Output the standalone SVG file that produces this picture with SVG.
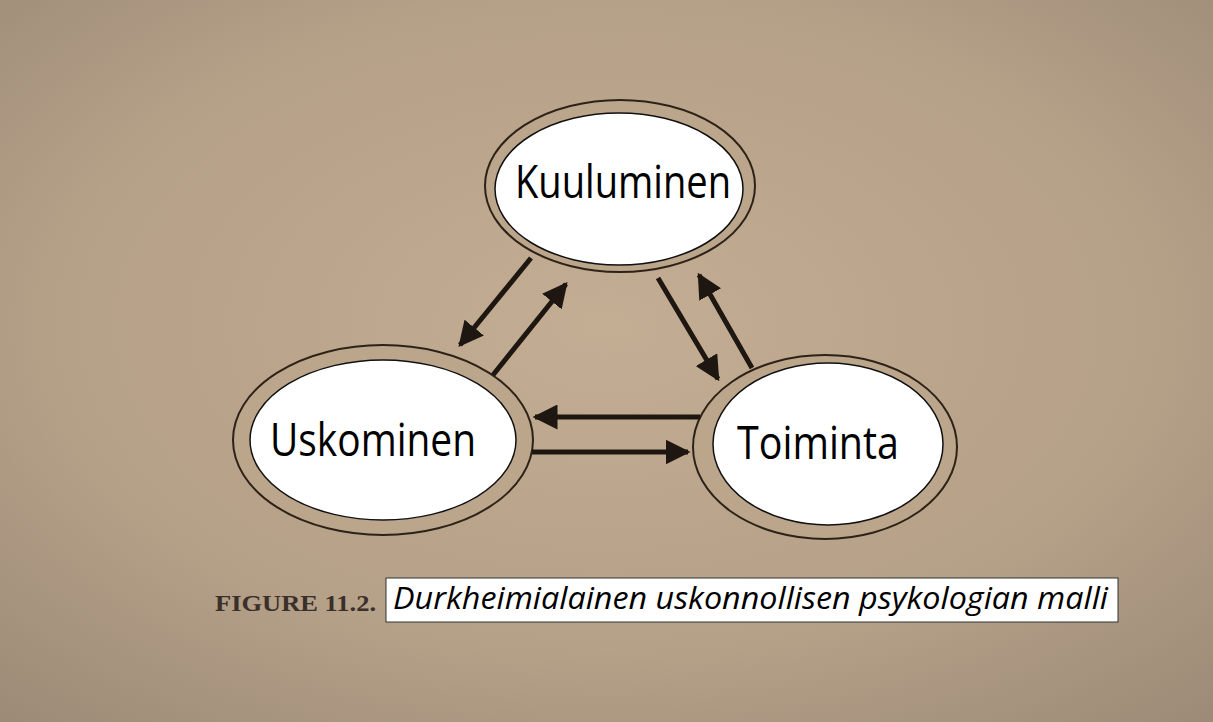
<svg xmlns="http://www.w3.org/2000/svg" width="1213" height="722" viewBox="0 0 1213 722">
<defs>
<radialGradient id="bg" cx="0.5" cy="0.45" r="0.75">
<stop offset="0" stop-color="#c3ad93"/>
<stop offset="0.6" stop-color="#b5a088"/>
<stop offset="1" stop-color="#9c8a76"/>
</radialGradient>
<marker id="ah" markerWidth="5" markerHeight="5" refX="4.5" refY="2.5" orient="auto" markerUnits="strokeWidth">
<path d="M0,0 L5,2.5 L0,5 z" fill="#1e1610"/>
</marker>
<style>
.ring{fill:#bba68c;stroke:#2e2218;stroke-width:2}
.core{fill:#ffffff;stroke:#111;stroke-width:1.5}
.lbl{font-family:"Open Sans","Liberation Sans",sans-serif;font-size:45px;fill:#000}
.conn line{stroke:#1e1610;stroke-width:5;marker-end:url(#ah)}
</style>
</defs>
<rect width="1213" height="722" fill="url(#bg)"/>
<g id="kuuluminen">
<ellipse class="ring" cx="620" cy="186" rx="135" ry="86"/>
<ellipse class="core" cx="619" cy="189" rx="124" ry="76"/>
<text class="lbl" x="515" y="198" textLength="216" lengthAdjust="spacingAndGlyphs">Kuuluminen</text>
</g>
<g id="uskominen">
<ellipse class="ring" cx="383" cy="440" rx="150" ry="95"/>
<ellipse class="core" cx="383" cy="440" rx="133" ry="80"/>
<text class="lbl" x="270" y="456" textLength="206" lengthAdjust="spacingAndGlyphs">Uskominen</text>
</g>
<g id="toiminta">
<ellipse class="ring" cx="825" cy="447" rx="132" ry="92"/>
<ellipse class="core" cx="828" cy="444" rx="115" ry="81"/>
<text class="lbl" x="737" y="459" textLength="162" lengthAdjust="spacingAndGlyphs">Toiminta</text>
</g>
<g id="connectors" class="conn">
<line x1="531" y1="258" x2="460" y2="345"/>
<line x1="493" y1="375" x2="566" y2="284"/>
<line x1="658" y1="278" x2="718" y2="379"/>
<line x1="752" y1="368" x2="699" y2="275"/>
<line x1="700" y1="417" x2="535" y2="417"/>
<line x1="532" y1="452" x2="688" y2="452"/>
</g>
<g id="caption">
<text x="215" y="611" font-family="Liberation Serif,serif" font-weight="bold" font-size="24" fill="#3b3029" textLength="161" lengthAdjust="spacingAndGlyphs">FIGURE 11.2.</text>
<rect x="386" y="578" width="732" height="44" fill="#ffffff" stroke="#333" stroke-width="1"/>
<text x="393" y="609" font-family="Open Sans,Liberation Sans,sans-serif" font-style="italic" font-size="31" fill="#000" textLength="715" lengthAdjust="spacingAndGlyphs">Durkheimialainen uskonnollisen psykologian malli</text>
</g>
</svg>
